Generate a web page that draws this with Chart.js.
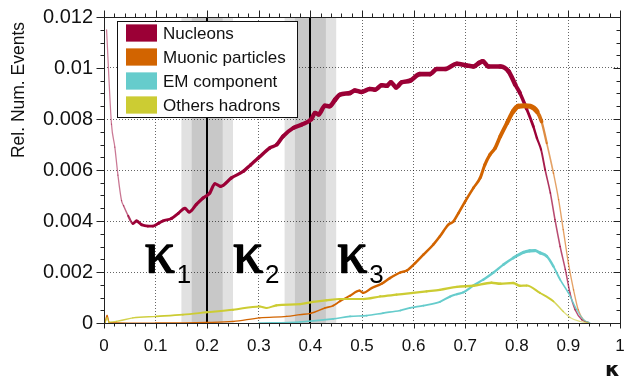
<!DOCTYPE html>
<html>
<head>
<meta charset="utf-8">
<script src="https://cdn.jsdelivr.net/npm/chart.js@4/dist/chart.umd.min.js"></script>
<style>
  html, body { margin: 0; padding: 0; background: #ffffff; }
  #wrap { width: 626px; height: 383px; position: relative; }
</style>
</head>
<body>
<div id="wrap"><canvas id="c" width="626" height="383"></canvas></div>
<script>
// ---- data -------------------------------------------------------------
const seriesNames = ['Nucleons', 'Muonic particles', 'EM component', 'Others hadrons'];

const nucleonK = [0.005, 0.0145, 0.021, 0.027, 0.034, 0.038, 0.047, 0.056, 0.063, 0.073, 0.085, 0.095,
  0.105, 0.114, 0.131, 0.144, 0.157, 0.165, 0.179, 0.192, 0.205, 0.215, 0.226, 0.247, 0.270, 0.284,
  0.299, 0.321, 0.335, 0.347, 0.367, 0.383, 0.402, 0.409, 0.416, 0.428, 0.437, 0.448, 0.457, 0.477,
  0.486, 0.499, 0.515, 0.525, 0.538, 0.548, 0.556, 0.566, 0.577, 0.593, 0.612, 0.632, 0.645, 0.661,
  0.684, 0.703, 0.716, 0.727, 0.734, 0.745, 0.768, 0.784, 0.797, 0.806, 0.819, 0.832, 0.839, 0.847,
  0.855, 0.865, 0.874, 0.884, 0.894, 0.903, 0.913, 0.926, 0.939];
const nucleonY = [0.0115, 0.0078, 0.0069, 0.0058, 0.0048, 0.0046, 0.0042, 0.0039, 0.0040, 0.00385, 0.0038, 0.0038,
  0.0039, 0.0040, 0.0041, 0.0043, 0.0045, 0.00435, 0.00465, 0.0049, 0.0051, 0.00546, 0.00536, 0.00569, 0.00595, 0.0062,
  0.00647, 0.00686, 0.0070, 0.00732, 0.00765, 0.00778, 0.0080, 0.00824, 0.00818, 0.00852, 0.00850, 0.00876, 0.00895, 0.00902,
  0.00912, 0.00906, 0.00918, 0.00915, 0.00932, 0.00930, 0.00944, 0.00924, 0.00944, 0.00950, 0.00976, 0.00976, 0.00996, 0.00996,
  0.01017, 0.01010, 0.01006, 0.0102, 0.01026, 0.01006, 0.01006, 0.00987, 0.00935, 0.00902, 0.00840, 0.00771, 0.00725, 0.00680,
  0.0060, 0.0051, 0.00405, 0.0030, 0.0021, 0.00118, 0.00052, 0.00013, 0.00002];

const muonK = [0.002, 0.006, 0.010, 0.10, 0.20, 0.25, 0.302, 0.354, 0.380, 0.401, 0.428, 0.444, 0.457,
  0.477, 0.495, 0.502, 0.519, 0.538, 0.554, 0.574, 0.587, 0.603, 0.619, 0.638, 0.651, 0.667, 0.677,
  0.687, 0.700, 0.716, 0.729, 0.738, 0.748, 0.758, 0.768, 0.781, 0.793, 0.803, 0.815, 0.826, 0.839,
  0.848, 0.858, 0.871, 0.881, 0.890, 0.900, 0.910, 0.919, 0.929, 0.940];
const muonY = [0.0, 0.0003, 0.00002, 0.0, 0.00002, 0.00006, 0.0002, 0.00026, 0.00033, 0.00038, 0.00059, 0.00068, 0.00085,
  0.00107, 0.00127, 0.00118, 0.00137, 0.00154, 0.00176, 0.00198, 0.00206, 0.00235, 0.00268, 0.00307, 0.0034, 0.00385, 0.00398,
  0.00431, 0.00477, 0.0053, 0.00569, 0.0062, 0.0066, 0.00686, 0.00732, 0.00784, 0.0083, 0.0085, 0.00852, 0.0085, 0.0083,
  0.0079, 0.00706, 0.00588, 0.00484, 0.00366, 0.00235, 0.0013, 0.00052, 0.00013, 0.0];

const emK = [0.30, 0.38, 0.444, 0.477, 0.509, 0.541, 0.574, 0.593, 0.619, 0.651, 0.671, 0.684, 0.696,
  0.716, 0.735, 0.755, 0.774, 0.793, 0.813, 0.825, 0.835, 0.845, 0.858, 0.871, 0.884, 0.900, 0.916, 0.930, 0.942];
const emY = [0.0, 0.00004, 0.00016, 0.00026, 0.00029, 0.00039, 0.00049, 0.00059, 0.00068, 0.00083, 0.00104, 0.00113, 0.0012,
  0.00147, 0.0017, 0.00198, 0.00229, 0.00255, 0.00277, 0.00283, 0.00284, 0.00275, 0.00262, 0.00222, 0.0017, 0.00118, 0.00052, 0.00012, 0.0];

const otherK = [0.002, 0.006, 0.010, 0.024, 0.056, 0.102, 0.153, 0.199, 0.25, 0.302, 0.315, 0.334, 0.380,
  0.405, 0.431, 0.457, 0.502, 0.535, 0.567, 0.599, 0.625, 0.651, 0.684, 0.716, 0.751, 0.768, 0.793,
  0.806, 0.819, 0.845, 0.871, 0.890, 0.903, 0.923, 0.940];
const otherY = [0.0, 0.0002, 0.00003, 0.00006, 0.0002, 0.00026, 0.00033, 0.00042, 0.00052, 0.00065, 0.00059, 0.00069, 0.00074,
  0.00083, 0.00089, 0.00094, 0.00094, 0.00104, 0.00111, 0.00118, 0.00124, 0.0013, 0.00142, 0.00146, 0.00158, 0.00154, 0.00157,
  0.00146, 0.00147, 0.00118, 0.00085, 0.00045, 0.00022, 0.00006, 0.0];

const xTickLabels = ['0', '0.1', '0.2', '0.3', '0.4', '0.5', '0.6', '0.7', '0.8', '0.9', '1'];
const yTickLabels = ['0', '0.002', '0.004', '0.006', '0.008', '0.01', '0.012'];

// kappa cut values with their inner / outer uncertainty windows
const cutValues = [0.2, 0.4];
const cutNames = ['1', '2', '3'];
const cutInner = 0.03;
const cutOuter = 0.05;

// ---- styling helpers --------------------------------------------------
const colors = ['#9b0036', '#d26400', '#66cccc', '#cccc33'];
const pairs = (ks, ys) => ks.map((k, i) => ({ x: k, y: ys[i] }));
const rgba = (hex, a) => {
  const n = parseInt(hex.slice(1), 16);
  return `rgba(${(n >> 16) & 255},${(n >> 8) & 255},${n & 255},${a})`;
};
// piecewise-linear profile along kappa, used for the band thickness / opacity
const profile = knots => k => {
  if (k <= knots[0][0]) return knots[0][1];
  for (let i = 1; i < knots.length; i++) {
    const [k1, v1] = knots[i];
    if (k <= k1) {
      const [k0, v0] = knots[i - 1];
      return v0 + (v1 - v0) * (k - k0) / (k1 - k0);
    }
  }
  return knots[knots.length - 1][1];
};
// statistical band thickness (thin where statistics are poor)
const widthRules = [
  profile([[0, 1.2], [0.04, 1.3], [0.06, 2.8], [0.3, 3.4], [0.42, 4.5], [0.79, 4.6], [0.83, 2.6], [0.86, 1.6], [1, 1.2]]),
  profile([[0, 1.2], [0.4, 1.4], [0.5, 2.3], [0.72, 2.7], [0.78, 4], [0.8, 5], [0.835, 5], [0.855, 2], [0.87, 1.4], [1, 1.2]]),
  profile([[0, 1.2], [0.6, 1.8], [0.78, 2.5], [0.82, 3.2], [0.85, 3], [0.88, 1.8], [0.92, 1.2]]),
  profile([[0, 1.2], [0.1, 1.5], [0.2, 2], [0.8, 2.4], [0.86, 1.8], [0.9, 1.2]])
];
const alphaRules = [
  profile([[0, 0.5], [0.04, 0.55], [0.06, 1], [0.84, 1], [0.87, 0.7]]),
  profile([[0, 1], [0.84, 1], [0.86, 0.6]]),
  profile([[0, 1], [0.9, 1], [0.93, 0.8]]),
  profile([[0, 0.8], [0.12, 1], [0.86, 1], [0.9, 0.6]])
];
const kData = [[nucleonK, nucleonY], [muonK, muonY], [emK, emY], [otherK, otherY]];

const datasets = kData.map(([ks, ys], i) => ({
  label: seriesNames[i],
  data: pairs(ks, ys),
  borderColor: colors[i],
  backgroundColor: colors[i],
  borderWidth: 2,
  pointRadius: 0,
  cubicInterpolationMode: 'monotone',
  borderCapStyle: 'round',
  borderJoinStyle: 'round',
  segment: {
    borderWidth: c => widthRules[i]((c.p0.parsed.x + c.p1.parsed.x) / 2),
    borderColor: c => rgba(colors[i], alphaRules[i]((c.p0.parsed.x + c.p1.parsed.x) / 2))
  }
})).reverse();

// ---- decorations ------------------------------------------------------
const decor = {
  id: 'decor',
  beforeDraw(chart) {
    const { ctx, chartArea: a, scales: { x } } = chart;
    ctx.save();
    for (const c of cutValues) {
      const l0 = x.getPixelForValue(c - cutOuter), r0 = x.getPixelForValue(c + cutOuter);
      const l1 = x.getPixelForValue(c - cutInner), r1 = x.getPixelForValue(c + cutInner);
      ctx.fillStyle = '#e1e1e1';
      ctx.fillRect(l0, a.top, r0 - l0, a.bottom - a.top);
      ctx.fillStyle = '#c8c8c8';
      ctx.fillRect(l1, a.top, r1 - l1, a.bottom - a.top);
    }
    ctx.restore();
  },
  beforeDatasetsDraw(chart) {
    const { ctx, chartArea: a, scales: { x, y } } = chart;
    ctx.save();
    ctx.strokeStyle = '#000';
    ctx.lineWidth = 2;
    for (const c of cutValues) {
      const px = Math.round(x.getPixelForValue(c));
      ctx.beginPath();
      ctx.moveTo(px, a.top);
      ctx.lineTo(px, a.bottom);
      ctx.stroke();
    }
    // region labels kappa_1, kappa_2, kappa_3
    const labelK = [0.079, 0.250, 0.452];
    const base = y.getPixelForValue(0.002);
    ctx.fillStyle = '#000';
    ctx.strokeStyle = '#000';
    ctx.lineWidth = 1.4;
    ctx.lineJoin = 'round';
    ctx.textBaseline = 'alphabetic';
    ctx.textAlign = 'left';
    labelK.forEach((k, i) => {
      const px = x.getPixelForValue(k);
      ctx.font = '60px "Liberation Serif"';
      ctx.fillText('κ', px, base);
      ctx.strokeText('κ', px, base);
      ctx.font = '26px "Liberation Sans"';
      ctx.fillText(cutNames[i], px + 32, base + 11);
    });
    ctx.restore();
  },
  afterDraw(chart) {
    const { ctx, chartArea: a, scales: { x, y } } = chart;
    ctx.save();
    // frame
    ctx.strokeStyle = '#222';
    ctx.lineWidth = 1;
    const L = Math.round(a.left) + 0.5, R = Math.round(a.right) + 0.5;
    const T = Math.round(a.top) + 0.5, B = Math.round(a.bottom) + 0.5;
    ctx.strokeRect(L, T, R - L, B - T);
    // major and minor ticks on all four sides
    ctx.beginPath();
    for (let i = 0; i <= 50; i++) {
      const px = Math.round(x.getPixelForValue(i * 0.02)) + 0.5;
      const major = i % 5 === 0;
      ctx.moveTo(px, B); ctx.lineTo(px, B + (major ? 5 : 3));
      ctx.moveTo(px, T); ctx.lineTo(px, T - (major ? 7 : 4));
    }
    for (let j = 0; j <= 24; j++) {
      const py = Math.round(y.getPixelForValue(j * 0.0005)) + 0.5;
      const major = j % 4 === 0;
      ctx.moveTo(L, py); ctx.lineTo(L - (major ? 8 : 4), py);
      ctx.moveTo(R, py); ctx.lineTo(R - (major ? 7 : 4), py);
    }
    ctx.stroke();

    // legend
    const lx = 117.5, ly = 21.5, lw = 180, lh = 96;
    ctx.fillStyle = '#fff';
    ctx.fillRect(lx, ly, lw, lh);
    ctx.strokeStyle = '#111';
    ctx.strokeRect(lx, ly, lw, lh);
    ctx.font = '17px "Liberation Sans"';
    ctx.textBaseline = 'middle';
    ctx.textAlign = 'left';
    seriesNames.forEach((name, i) => {
      const cy = 33 + i * 24;
      ctx.fillStyle = colors[i];
      ctx.fillRect(126, cy - 8.5, 31, 17);
      ctx.strokeStyle = rgba(colors[i], 0.5);
      ctx.strokeRect(126.5, cy - 8, 30, 16);
      ctx.fillStyle = '#111';
      ctx.fillText(name, 163, cy + 1);
    });

    // y-axis title
    ctx.save();
    ctx.translate(19, 90);
    ctx.rotate(-Math.PI / 2);
    ctx.font = '17.5px "Liberation Sans"';
    ctx.textAlign = 'center';
    ctx.textBaseline = 'middle';
    ctx.fillStyle = '#111';
    ctx.fillText('Rel. Num. Events', 0, 0);
    ctx.restore();

    // x-axis title
    ctx.save();
    ctx.font = 'bold 19px "DejaVu Sans"';
    const wk = ctx.measureText('κ').width;
    ctx.translate(605, 376);
    ctx.scale(15 / wk, 1);
    ctx.textAlign = 'left';
    ctx.textBaseline = 'alphabetic';
    ctx.fillStyle = '#111';
    ctx.fillText('κ', 0, 0);
    ctx.restore();

    ctx.restore();
  }
};

new Chart(document.getElementById('c'), {
  type: 'line',
  data: { datasets },
  options: {
    responsive: false,
    animation: false,
    devicePixelRatio: 1,
    layout: { padding: { left: 0, right: 6, top: 17, bottom: 0 } },
    plugins: { legend: { display: false }, tooltip: { enabled: false } },
    scales: {
      x: {
        type: 'linear', min: 0, max: 1,
        afterFit: s => { s.height = 60; s.paddingLeft = 0; s.paddingRight = 0; },
        ticks: {
          stepSize: 0.1, padding: 13, color: '#111',
          font: { family: '"Liberation Sans"', size: 17 },
          maxRotation: 0,
          callback: (v, i) => xTickLabels[i]
        },
        grid: { color: 'rgba(0,0,0,0.6)', lineWidth: 1, drawTicks: false },
        border: { display: false, dash: [1, 2] }
      },
      y: {
        type: 'linear', min: 0, max: 0.012,
        afterFit: s => { s.width = 104; s.paddingTop = 0; s.paddingBottom = 0; },
        ticks: {
          stepSize: 0.002, padding: 11, color: '#111',
          font: { family: '"Liberation Sans"', size: 20 },
          callback: (v, i) => yTickLabels[i]
        },
        grid: { color: 'rgba(0,0,0,0.6)', lineWidth: 1, drawTicks: false },
        border: { display: false, dash: [1, 2] }
      }
    }
  },
  plugins: [decor]
});
</script>
</body>
</html>
